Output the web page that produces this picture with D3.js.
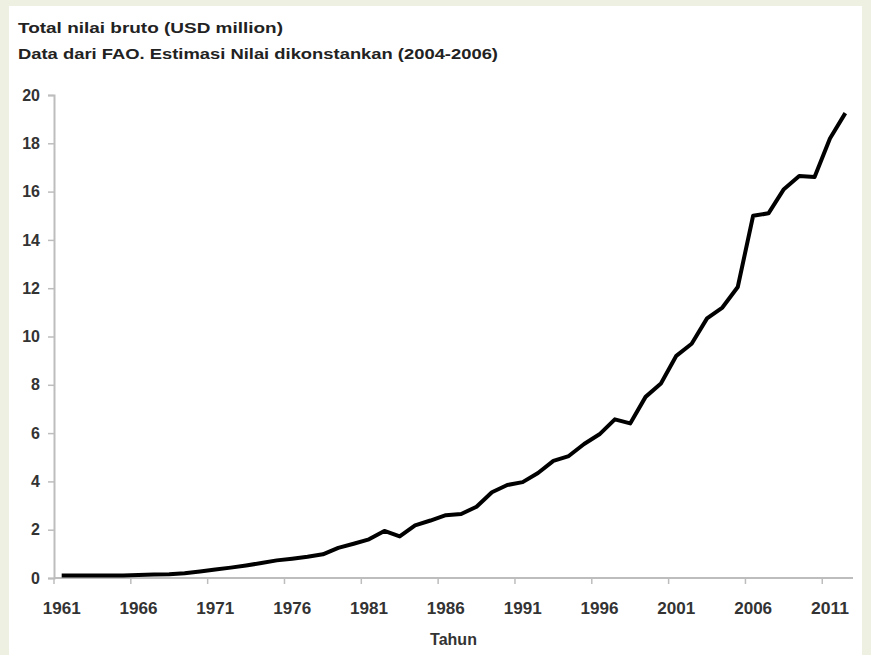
<!DOCTYPE html>
<html>
<head>
<meta charset="utf-8">
<script src="https://cdn.jsdelivr.net/npm/d3@7"></script>
<style>
  body { margin: 0; background: #eef0e2; }
  svg { display: block; }
</style>
</head>
<body>
<div id="chart"></div>
<script>
// Data
const years = d3.range(1961, 2013);
const values = [
  0.10, 0.10, 0.10, 0.10, 0.10, 0.12, 0.14, 0.16, 0.20, 0.27,
  0.35, 0.43, 0.52, 0.62, 0.73, 0.80, 0.88, 0.98, 1.25, 1.42,
  1.60, 1.95, 1.72, 2.18, 2.38, 2.60, 2.65, 2.95, 3.55, 3.85,
  3.97, 4.35, 4.85, 5.05, 5.55, 5.95, 6.57, 6.40, 7.50, 8.05,
  9.20, 9.70, 10.75, 11.20, 12.05, 15.00, 15.10, 16.10, 16.65, 16.60,
  18.20, 19.25
];
const yTicks = [0, 2, 4, 6, 8, 10, 12, 14, 16, 18, 20];
const xLabelYears = [1961, 1966, 1971, 1976, 1981, 1986, 1991, 1996, 2001, 2006, 2011];
const titleLines = [
  "Total nilai bruto (USD million)",
  "Data dari FAO. Estimasi Nilai dikonstankan (2004-2006)"
];
const xTitle = "Tahun";

const W = 871, H = 655;
const margin = { left: 54, right: 853, top: 95, bottom: 578 };

const svg = d3.select("#chart").append("svg")
  .attr("width", W).attr("height", H);

// pale frame + white panel
svg.append("rect").attr("width", W).attr("height", H).attr("fill", "#eef0e2");
svg.append("rect").attr("x", 9).attr("y", 6).attr("width", 853).attr("height", H - 6).attr("fill", "#fff");

// scales
const x = d3.scaleBand().domain(years).range([margin.left, margin.right]);
const y = d3.scaleLinear().domain([0, 20]).range([margin.bottom, margin.top]);

const font = "Liberation Sans, Arial, sans-serif";

// titles
titleLines.forEach((t, i) => {
  svg.append("text")
    .attr("x", 18).attr("y", 33 + i * 26)
    .attr("font-family", font).attr("font-weight", "bold")
    .attr("font-size", 15.5).attr("fill", "#222")
    .attr("textLength", i === 0 ? 265 : 480)
    .attr("lengthAdjust", "spacingAndGlyphs")
    .text(t);
});

// y axis
const yAxis = svg.append("g")
  .attr("transform", `translate(${margin.left},0)`)
  .call(d3.axisLeft(y).tickValues(yTicks).tickSize(6).tickPadding(8));
yAxis.select(".domain").attr("stroke", "#bdbdbd").attr("stroke-width", 2);
yAxis.selectAll(".tick line").attr("stroke", "#bdbdbd").attr("stroke-width", 1.5);
yAxis.selectAll(".tick text")
  .attr("font-family", font).attr("font-size", 16).attr("font-weight", "bold")
  .attr("fill", "#333");

// x axis: ticks on category boundaries, labels at category centres
const xAxis = svg.append("g").attr("transform", `translate(0,${margin.bottom})`);
xAxis.append("line")
  .attr("x1", margin.left).attr("x2", margin.right)
  .attr("stroke", "#bdbdbd").attr("stroke-width", 2);
xAxis.selectAll("line.tick")
  .data(xLabelYears)
  .join("line")
  .attr("class", "tick")
  .attr("x1", d => x(d)).attr("x2", d => x(d))
  .attr("y1", 0).attr("y2", 6)
  .attr("stroke", "#bdbdbd").attr("stroke-width", 1.5);
xAxis.selectAll("text")
  .data(xLabelYears)
  .join("text")
  .attr("x", d => x(d) + x.bandwidth() / 2)
  .attr("y", 36)
  .attr("text-anchor", "middle")
  .attr("font-family", font).attr("font-size", 16).attr("font-weight", "bold")
  .attr("fill", "#333")
  .attr("textLength", 38).attr("lengthAdjust", "spacingAndGlyphs")
  .text(d => d);

svg.append("text")
  .attr("x", (margin.left + margin.right) / 2).attr("y", 645)
  .attr("text-anchor", "middle")
  .attr("font-family", font).attr("font-size", 16).attr("font-weight", "bold")
  .attr("fill", "#333")
  .text(xTitle);

// line
const line = d3.line()
  .x((d, i) => x(years[i]) + x.bandwidth() / 2)
  .y(d => y(d));

svg.append("path")
  .datum(values)
  .attr("fill", "none")
  .attr("stroke", "#000")
  .attr("stroke-width", 4)
  .attr("stroke-linejoin", "round")
  .attr("d", line);
</script>
</body>
</html>
